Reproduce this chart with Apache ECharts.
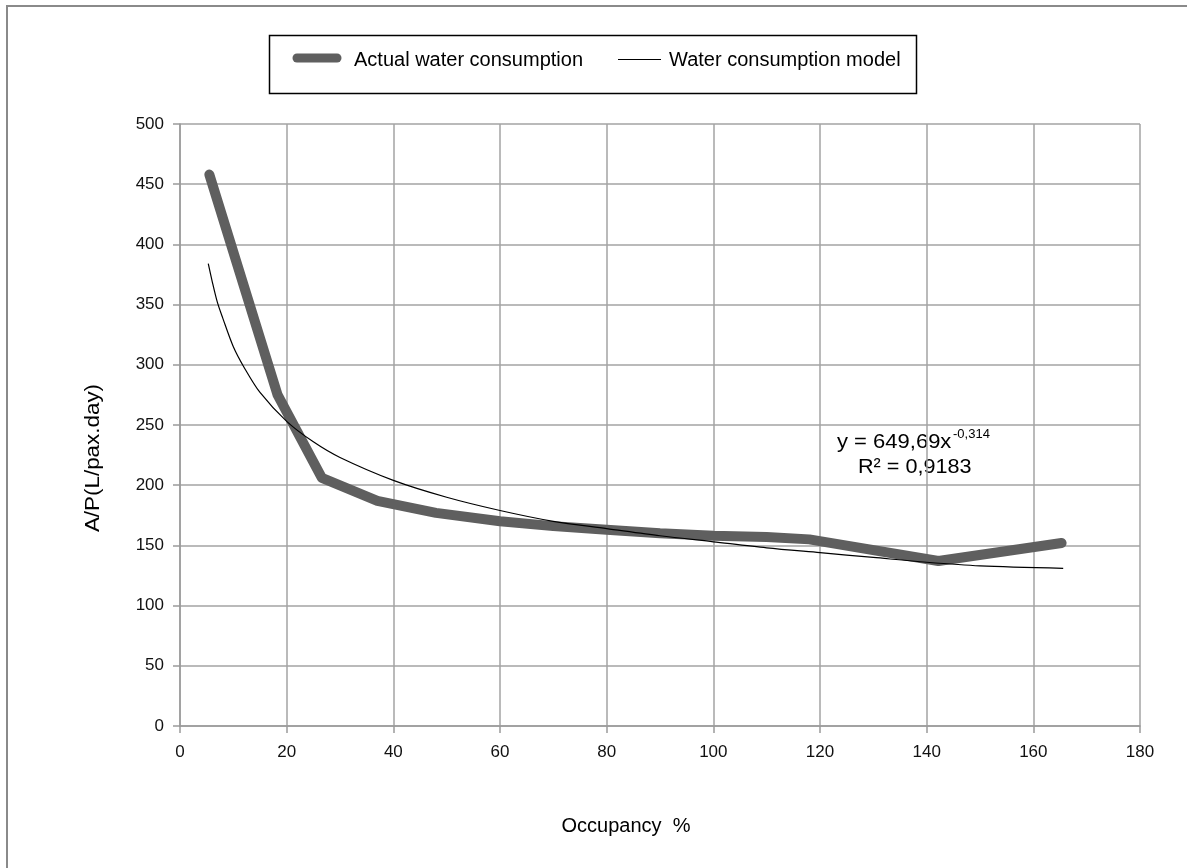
<!DOCTYPE html>
<html>
<head>
<meta charset="utf-8">
<script src="https://cdn.jsdelivr.net/npm/echarts@6/dist/echarts.min.js"></script>
<style>
  html, body { margin: 0; padding: 0; background: #fff; }
  #chart { width: 1187px; height: 868px; }
</style>
</head>
<body>
<div id="chart"></div>
<script>
// values
var actualX = [5.5, 18.3, 26.6, 37, 48, 60, 70, 80, 90, 100, 110, 118, 142.2, 165.3];
var actualY = [458, 275, 206, 187, 177, 170, 166, 163, 160, 158, 157, 155, 137, 152];

var modelX = [5.3, 6, 7, 8, 10, 12, 15, 20, 25, 30, 40, 50, 60, 70, 80, 90, 100, 110, 120, 130, 140, 150, 165.6];
var modelY = [384, 370, 352, 339, 315, 298, 277, 253, 236, 223, 204, 190, 179, 170, 164, 158, 153, 148, 144, 140, 136, 133, 131];

var seriesNames = ['Actual water consumption', 'Water consumption model'];
var xTitle = 'Occupancy  %';
var yTitle = 'A/P(L/pax.day)';

var FONT = '"Liberation Sans", Arial, sans-serif';

function pairs(xs, ys) {
  return xs.map(function (x, i) { return [x, ys[i]]; });
}

var chart = echarts.init(document.getElementById('chart'));

var option = {
  backgroundColor: '#fff',
  animation: false,
  grid: { left: 180, right: 47, top: 124, bottom: 142, containLabel: false },
  xAxis: {
    type: 'value',
    min: 0, max: 180, interval: 20,
    axisLine: { show: true, lineStyle: { color: '#9a9a9a', width: 1.5 } },
    axisTick: { show: true, length: 7, lineStyle: { color: '#9a9a9a', width: 1.5 } },
    axisLabel: { margin: 18, fontSize: 17, fontFamily: FONT, color: '#111' },
    splitLine: { show: true, lineStyle: { color: '#a3a3a3', width: 1.5 } }
  },
  yAxis: {
    type: 'value',
    min: 0, max: 500, interval: 50,
    axisLine: { show: true, lineStyle: { color: '#9a9a9a', width: 1.5 } },
    axisTick: { show: true, length: 7, lineStyle: { color: '#9a9a9a', width: 1.5 } },
    axisLabel: { margin: 16, fontSize: 17, fontFamily: FONT, color: '#111' },
    splitLine: { show: true, lineStyle: { color: '#a3a3a3', width: 1.5 } }
  },
  series: [
    {
      name: seriesNames[0],
      type: 'line',
      data: pairs(actualX, actualY),
      showSymbol: false,
      lineStyle: { color: '#5f5f5f', width: 10, cap: 'round', join: 'round' },
      z: 2
    },
    {
      name: seriesNames[1],
      type: 'line',
      data: pairs(modelX, modelY),
      showSymbol: false,
      smooth: 0.3,
      lineStyle: { color: '#000', width: 1.2 },
      z: 3
    }
  ],
  graphic: [
    // outer frame
    { type: 'rect', shape: { x: 7, y: 6, width: 1200, height: 900 },
      style: { fill: 'none', stroke: '#8a8a8a', lineWidth: 2 }, silent: true },
    // legend box
    { type: 'rect', shape: { x: 269.5, y: 35.5, width: 647, height: 58 },
      style: { fill: '#fff', stroke: '#000', lineWidth: 1.5 }, silent: true },
    { type: 'line', shape: { x1: 297, y1: 58, x2: 337, y2: 58 },
      style: { stroke: '#5f5f5f', lineWidth: 9, lineCap: 'round' }, silent: true },
    { type: 'text', x: 354, y: 60,
      style: { text: seriesNames[0], font: '20px ' + FONT, fill: '#000', verticalAlign: 'middle' } },
    { type: 'line', shape: { x1: 618, y1: 59.5, x2: 661, y2: 59.5 },
      style: { stroke: '#000', lineWidth: 1.2 }, silent: true },
    { type: 'text', x: 669, y: 60,
      style: { text: seriesNames[1], font: '20px ' + FONT, fill: '#000', verticalAlign: 'middle' } },
    // axis titles
    { type: 'text', x: 626, y: 826,
      style: { text: xTitle, font: '20px ' + FONT, fill: '#000', align: 'center', verticalAlign: 'middle' } },
    { type: 'text', x: 93, y: 458, rotation: Math.PI / 2, scaleX: 1.12,
      style: { text: yTitle, font: '20px ' + FONT, fill: '#000', align: 'center', verticalAlign: 'middle' } },
    // trendline equation
    { type: 'text', x: 837, y: 442, scaleX: 1.1,
      style: { text: 'y = 649,69x', font: '20px ' + FONT, fill: '#000', verticalAlign: 'middle' } },
    { type: 'text', x: 953, y: 434,
      style: { text: '-0,314', font: '13px ' + FONT, fill: '#000', verticalAlign: 'middle' } },
    { type: 'text', x: 858, y: 467, scaleX: 1.08,
      style: { text: 'R² = 0,9183', font: '20px ' + FONT, fill: '#000', verticalAlign: 'middle' } }
  ]
};

chart.setOption(option);
</script>
</body>
</html>
